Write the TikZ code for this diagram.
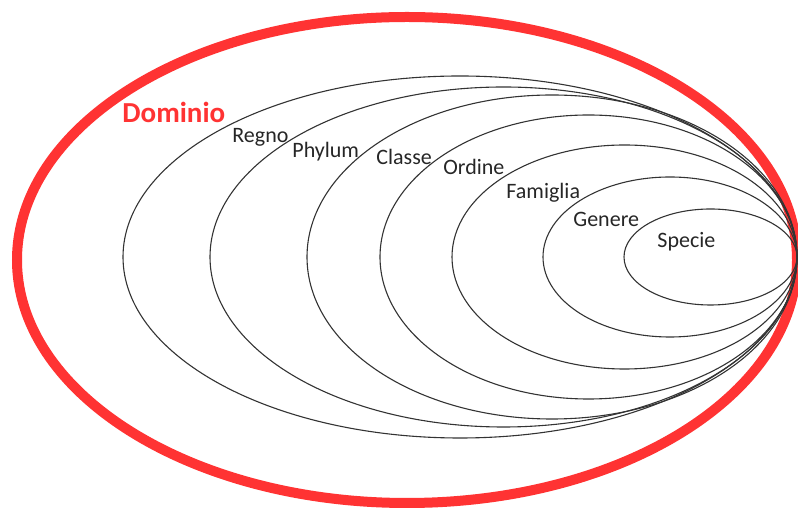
\documentclass[tikz,border=0pt]{standalone}
\usepackage{fontspec}
\setmainfont{Carlito}
\definecolor{dominiored}{RGB}{255,51,51}
\definecolor{inktext}{RGB}{38,38,38}
\tikzset{
    rank/.style     = {draw = black!80, line width = 0.55pt},
    ranklabel/.style = {anchor = base west, inner sep = 0pt, text = inktext,
                        font = \fontsize{11}{13}\selectfont},
}
\begin{document}
\begin{tikzpicture}[x = 0.5pt, y = 0.5pt]
                \useasboundingbox (0,0) rectangle (798,508);
                \clip (0,0) rectangle (798,508);
                % outer ring
                \draw [dominiored, line width = 5pt] (407,248) ellipse [x radius = 390, y radius = 243];
                % nested ranks, all touching at the right
                \draw [rank] (460.0,251) ellipse [x radius = 337.0, y radius = 181];
                \draw [rank] (503.5,251) ellipse [x radius = 293.5, y radius = 170];
                \draw [rank] (552.0,251) ellipse [x radius = 245.0, y radius = 162];
                \draw [rank] (588.5,251) ellipse [x radius = 208.5, y radius = 142];
                \draw [rank] (624.5,251) ellipse [x radius = 172.5, y radius = 112];
                \draw [rank] (670.0,251) ellipse [x radius = 127.0, y radius = 80];
                \draw [rank] (710.5,251) ellipse [x radius = 86.5,  y radius = 48];
                % labels
                \node [ranklabel, text = dominiored, font = \fontsize{14.5}{17}\selectfont\bfseries]
                      (dominio)  at (122,385) {Dominio};
                \node [ranklabel] (regno)    at (232,365) {Regno};
                \node [ranklabel] (phylum)   at (292,350) {Phylum};
                \node [ranklabel] (classe)   at (376,343) {Classe};
                \node [ranklabel] (ordine)   at (443,333) {Ordine};
                \node [ranklabel] (famiglia) at (506,309) {Famiglia};
                \node [ranklabel] (genere)   at (573,281) {Genere};
                \node [ranklabel] (specie)   at (657,260) {Specie};
            \end{tikzpicture}
\end{document}
